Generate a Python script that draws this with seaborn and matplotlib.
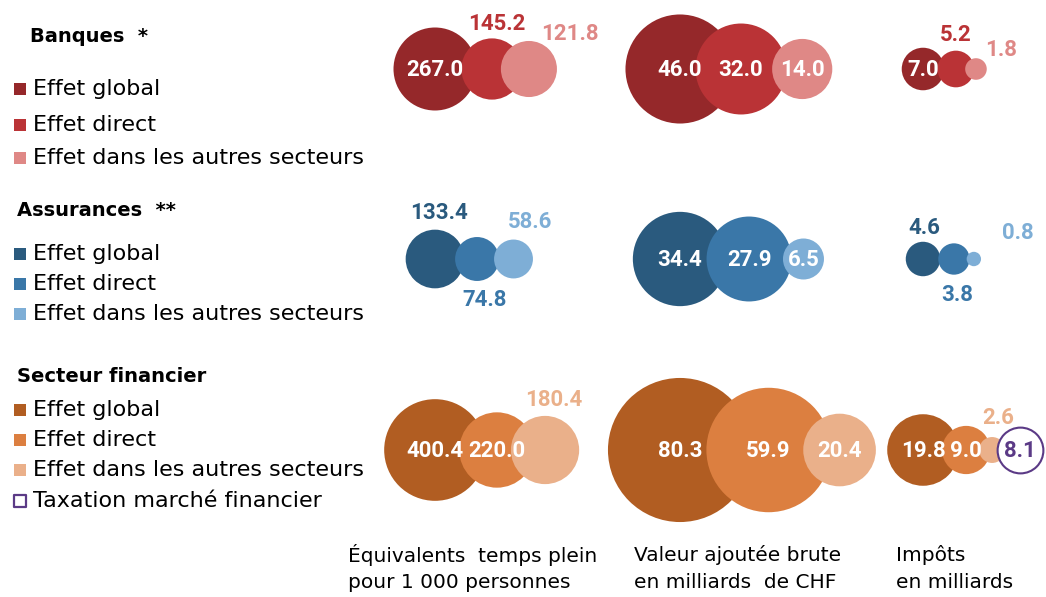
import numpy as np
import pandas as pd
import seaborn as sns
import matplotlib.pyplot as plt

# ---------------- data ----------------
group_titles = ["Banques  *", "Assurances  **", "Secteur financier"]
effects = ["Effet global", "Effet direct", "Effet dans les autres secteurs"]
extra_effect = "Taxation marché financier"
measure_labels = [
    ["Équivalents  temps plein", "pour 1 000 personnes"],
    ["Valeur ajoutée brute", "en milliards  de CHF"],
    ["Impôts", "en milliards"],
]

fte_banques = [267.0, 145.2, 121.8]
fte_assurances = [133.4, 74.8, 58.6]
fte_secteur = [400.4, 220.0, 180.4]

vab_banques = [46.0, 32.0, 14.0]
vab_assurances = [34.4, 27.9, 6.5]
vab_secteur = [80.3, 59.9, 20.4]

impots_banques = [7.0, 5.2, 1.8]
impots_assurances = [4.6, 3.8, 0.8]
impots_secteur = [19.8, 9.0, 2.6]
taxation_marche = [8.1]

values = [
    [fte_banques, vab_banques, impots_banques],
    [fte_assurances, vab_assurances, impots_assurances],
    [fte_secteur, vab_secteur, impots_secteur],
]

# ---------------- style / layout ----------------
palettes = [
    ["#95282A", "#BA3336", "#DF8886"],
    ["#2A5A7E", "#3A77A8", "#7EAED6"],
    ["#B15D22", "#DC7F40", "#EAB08A"],
]
purple = "#5B3A86"

DPI = 100
W, H = 1046, 597
col_x = [435, 680, 923]            # x of the "global" bubble per column (px)
row_y = [69, 259, 450]             # y of each group row (px)
px_per_sqrt = [2.54, 8.04, 8.04]   # bubble radius (px) per sqrt(unit)
# spacing factors between consecutive bubbles (fraction of sum of radii)
spacing = [
    [(0.79, 0.63), (0.61, 0.81), (0.83, 0.69)],
    [(0.82, 0.88), (0.77, 0.865), (0.94, 0.87)],
    [(0.70, 0.67), (0.66, 0.72), (0.72, 0.70, 0.78)],
]
# label placement: None = inside (white), else (dx, dy) offset from bubble centre
label_place = [
    [[None, (5, -45), (41, -35)], [None, None, None], [None, (0, -34), (25, -19)]],
    [[(4, -46), (7, 41), (17, -37)], [None, None, None], [(1, -31), (3, 36), (44, -26)]],
    [[None, None, (9, -50)], [None, None, None], [None, None, (6, -32)]],
]

TEXT_FONT = ["DejaVu Sans"]
NUM_FONT = ["Roboto", "DejaVu Sans"]

sns.set_theme(style="white")
plt.rcParams["font.family"] = TEXT_FONT

fig = plt.figure(figsize=(W / DPI, H / DPI), dpi=DPI)
ax = fig.add_axes([0, 0, 1, 1])
ax.set_xlim(0, W)
ax.set_ylim(H, 0)
ax.axis("off")


def s_unit(k):
    # marker area (pt^2) per value unit so that radius_px = k*sqrt(v)
    return (2 * k * 72 / DPI) ** 2


col_vmax = [max(values[r][c][i] for r in range(3) for i in range(3)) for c in range(3)]
NUM_KW = dict(fontsize=16, fontweight="bold", family=NUM_FONT, ha="center", va="center")

for r in range(3):
    for c in range(3):
        vals = list(values[r][c])
        k = px_per_sqrt[c]
        radii = [k * np.sqrt(v) for v in vals]
        xs = [col_x[c]]
        for i in range(1, 3):
            xs.append(xs[-1] + spacing[r][c][i - 1] * (radii[i - 1] + radii[i]))
        df = pd.DataFrame({"x": xs, "y": [row_y[r]] * 3, "effet": effects, "valeur": vals})
        vmax = col_vmax[c]
        sns.scatterplot(data=df, x="x", y="y", hue="effet", size="valeur",
                        palette=dict(zip(effects, palettes[r])),
                        sizes=(0, s_unit(k) * vmax), size_norm=(0, vmax),
                        linewidth=0, edgecolor="none", alpha=1, legend=False, ax=ax)
        for i in range(3):
            place = label_place[r][c][i]
            txt = f"{vals[i]:.1f}"
            if place is None:
                ax.text(xs[i], row_y[r] + 1, txt, color="white", **NUM_KW)
            else:
                ax.text(xs[i] + place[0], row_y[r] + place[1], txt, color=palettes[r][i],
                        **NUM_KW)
        if r == 2 and c == 2:
            rt = k * np.sqrt(taxation_marche[0])
            xt = xs[-1] + spacing[r][c][2] * (radii[-1] + rt)
            dft = pd.DataFrame({"x": [xt], "y": [row_y[r]], "valeur": taxation_marche})
            sns.scatterplot(data=dft, x="x", y="y", size="valeur",
                            sizes=(0, s_unit(k) * vmax), size_norm=(0, vmax),
                            color="white", edgecolor=purple, linewidth=1.5,
                            legend=False, ax=ax, zorder=5)
            ax.text(xt, row_y[r] + 1, f"{taxation_marche[0]:.1f}", color=purple,
                    zorder=6, **NUM_KW)

# ---------------- legends (left) ----------------
title_pos = [(30, 37), (17, 211), (17, 377)]
item_y = [[89, 125, 158], [254, 284, 314], [410, 440, 470, 501]]
sq = (12 * 72 / DPI) ** 2
for r in range(3):
    ax.text(title_pos[r][0], title_pos[r][1], group_titles[r], fontsize=14,
            fontweight="bold", ha="left", va="center", color="black")
    for i in range(3):
        ax.scatter([20], [item_y[r][i]], marker="s", s=sq, color=palettes[r][i], linewidth=0)
        ax.text(33, item_y[r][i], effects[i], fontsize=16, ha="left", va="center",
                color="black")
    if r == 2:
        ax.scatter([20], [item_y[r][3]], marker="s", s=sq, facecolor="white",
                   edgecolor=purple, linewidth=1.6)
        ax.text(33, item_y[r][3], extra_effect, fontsize=16, ha="left", va="center",
                color="black")

# ---------------- column captions ----------------
caption_x = [348, 634, 896]
caption_y = [555, 583]
for c in range(3):
    for li, line in enumerate(measure_labels[c]):
        ax.text(caption_x[c], caption_y[li], line, fontsize=14.5, ha="left", va="center",
                color="black")

fig.savefig("out.png", dpi=DPI)
